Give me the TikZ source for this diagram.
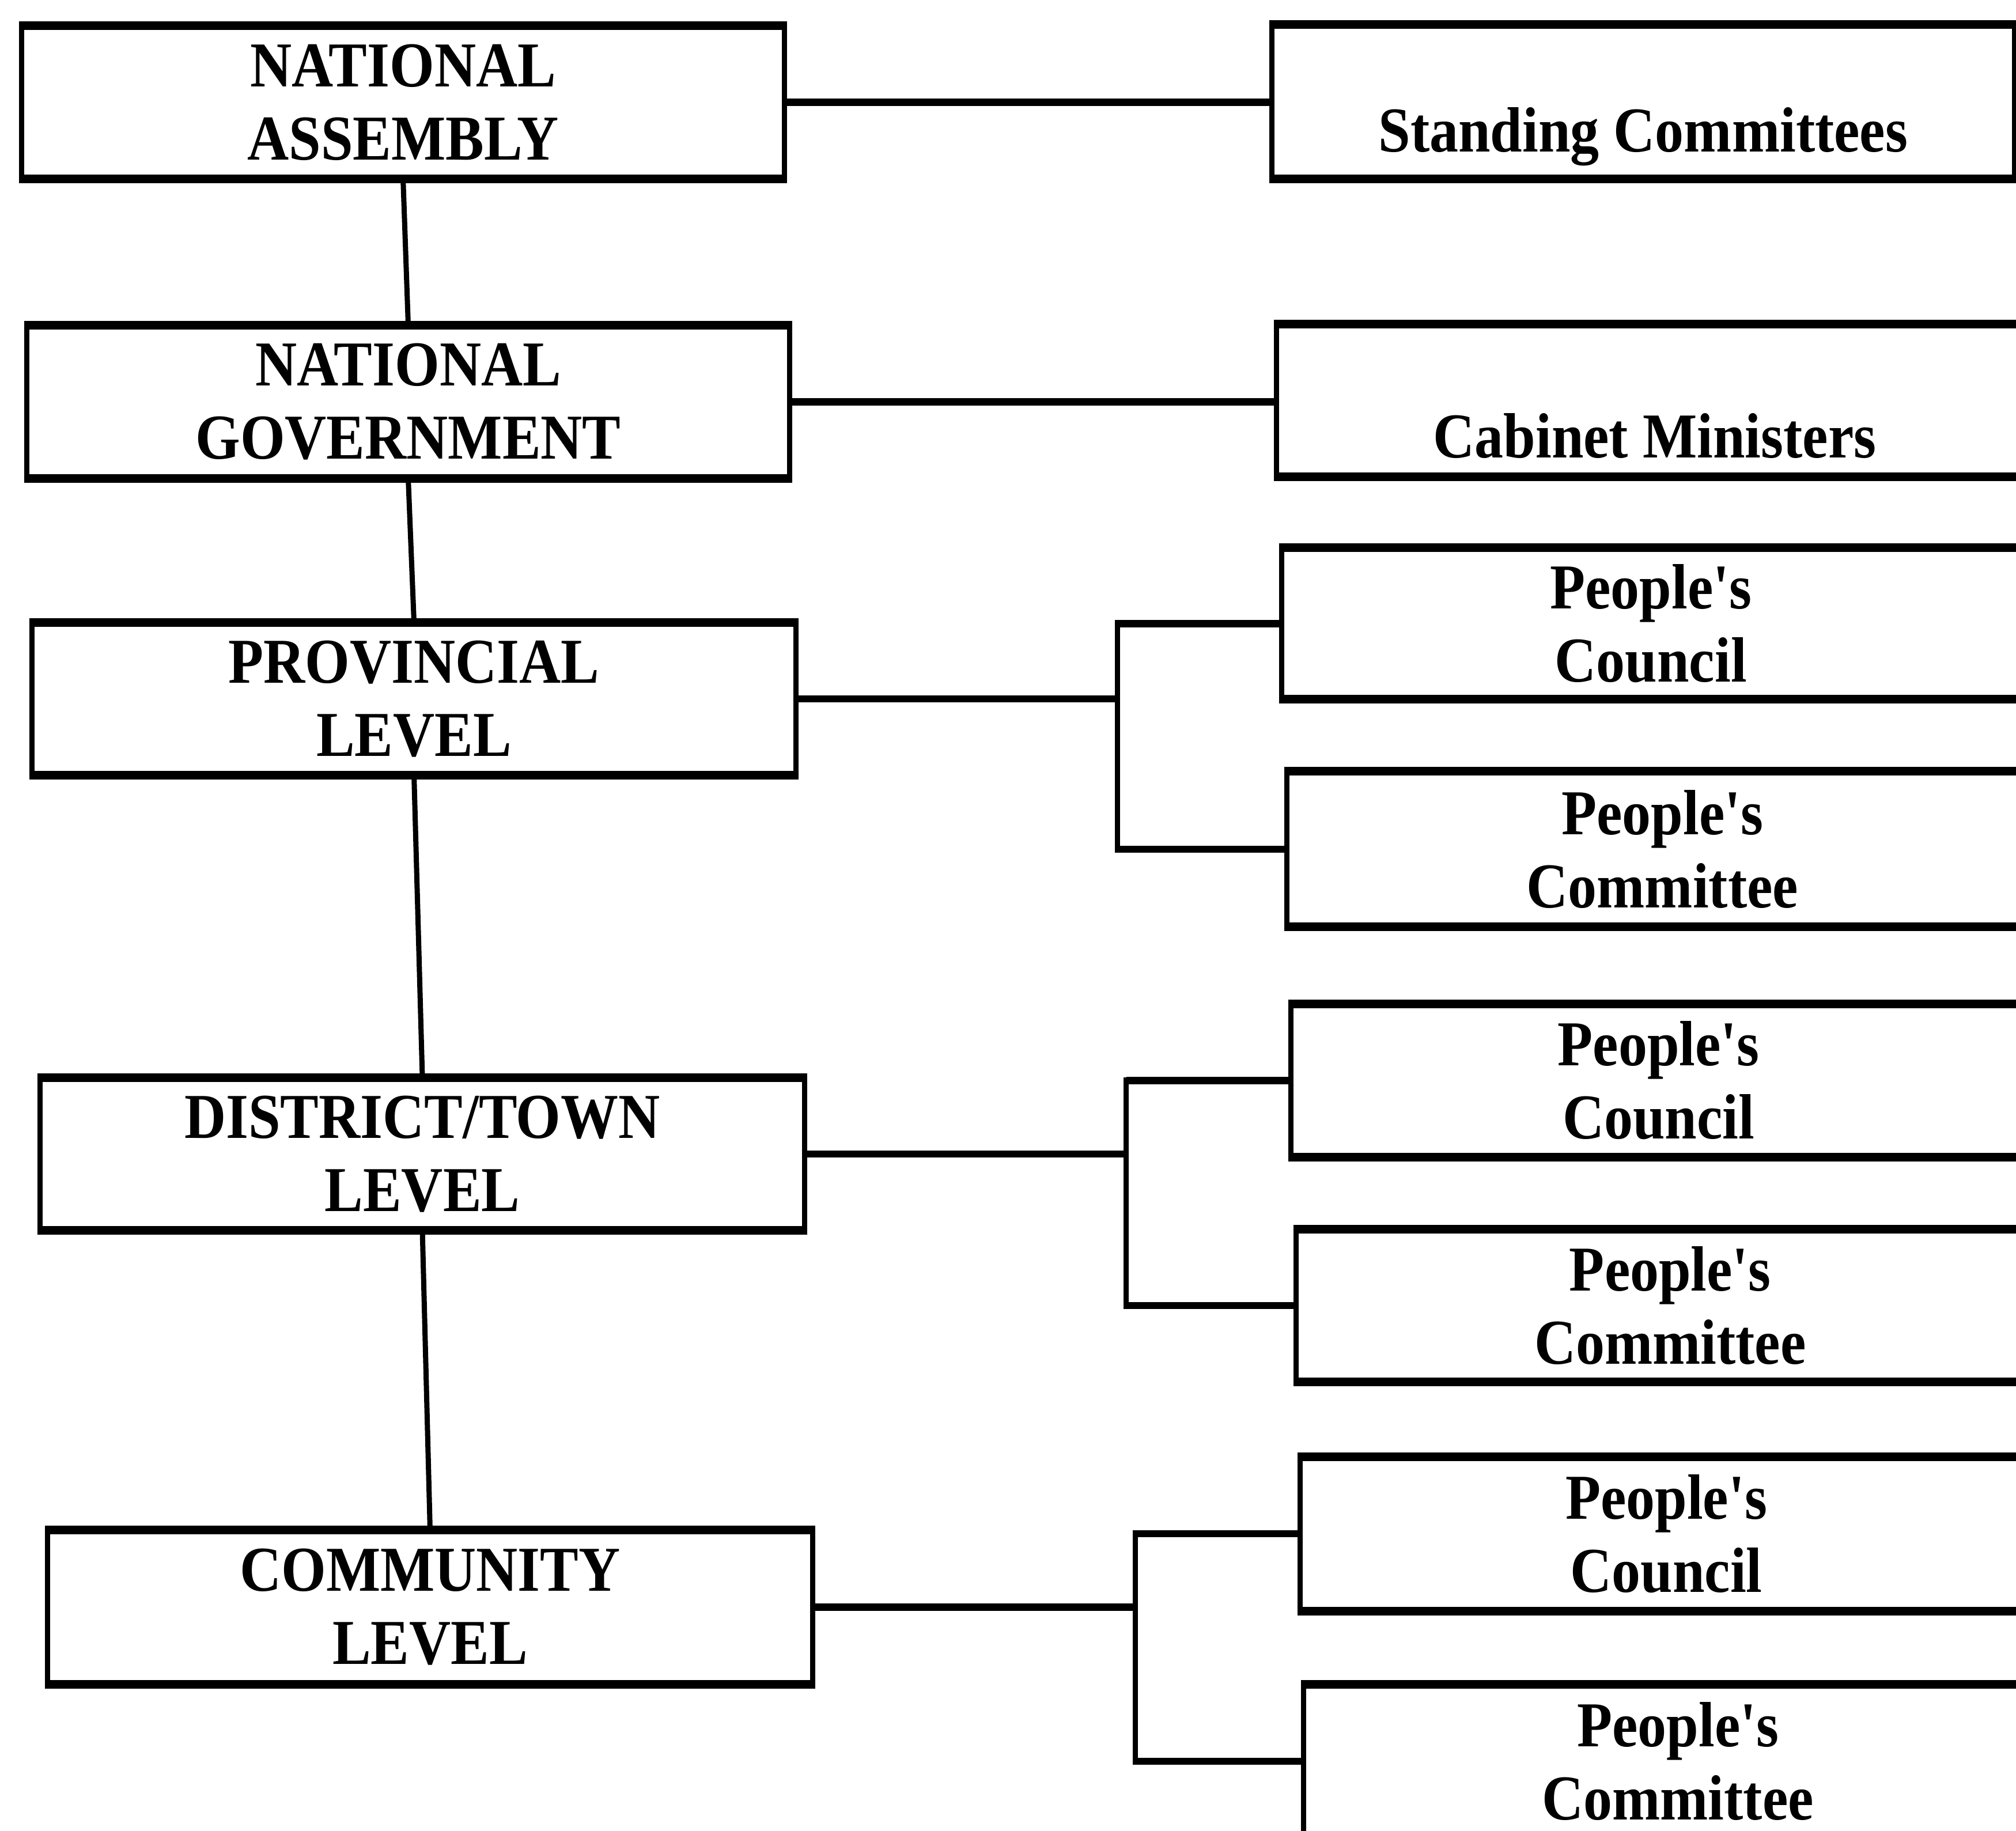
\documentclass[tikz,border=0pt]{standalone}
\usepackage{fontspec}
\setmainfont{Liberation Serif}[FakeStretch=0.9, Ligatures=TeXOff]
\begin{document}
\begin{tikzpicture}[
  x=0.22315pt, y=-0.22315pt,
  unitbox/.style={draw=none, inner sep=0pt, outer sep=0pt, align=center,
    font=\fontsize{11.1}{12.7}\selectfont\bfseries},
  edgeh/.style={line width=1.5pt, shorten <=-0.45pt, shorten >=-0.45pt},
  edgev/.style={line width=0.9pt},
  hconn/.style={line width=1.25pt},
  vconn/.style={line width=0.9pt, shorten <=-0.6pt, shorten >=-0.6pt},
  trunk/.style={line width=0.9pt}
]
\useasboundingbox (0,0) rectangle (1568,1424);
\clip (0,0) rectangle (1568,1424);

% box with corners (x1,y1) and (x2,y2)
\newcommand\orgbox[6]{%
  \node[unitbox, minimum width={(#4-#2)*0.22315pt}, minimum height={(#5-#3)*0.22315pt}]
    (#1) at ({(#2+#4)/2},{(#3+#5)/2}) {#6};
  \draw[edgeh] (#1.north west) -- (#1.north east);
  \draw[edgeh] (#1.south west) -- (#1.south east);
  \draw[edgev] (#1.north west) -- (#1.south west);
  \draw[edgev] (#1.north east) -- (#1.south east);
}

% levels of government
\orgbox{na}{17}{20}{610}{139}{NATIONAL\\ASSEMBLY}
\orgbox{ng}{21}{253}{614}{372}{NATIONAL\\GOVERNMENT}
\orgbox{pl}{25}{484}{619}{603}{PROVINCIAL\\LEVEL}
\orgbox{dt}{31}{838}{626}{957}{DISTRICT/TOWN\\LEVEL}
\orgbox{cl}{37}{1190}{632}{1310}{COMMUNITY\\LEVEL}

% bodies at each level
\orgbox{sc}{989}{19}{1567}{139}{\vphantom{P}\\Standing Committees}
\orgbox{cm}{993}{252}{1581}{371}{\vphantom{P}\\Cabinet Ministers}
\orgbox{pca}{997}{426}{1571}{544}{People's\\Council}
\orgbox{pma}{1001}{600}{1585}{721}{People's\\Committee}
\orgbox{pcb}{1004}{781}{1576}{900}{People's\\Council}
\orgbox{pmb}{1008}{956}{1590}{1075}{People's\\Committee}
\orgbox{pcc}{1011}{1133}{1581}{1253}{People's\\Council}
\orgbox{pmc}{1014}{1310}{1596}{1430}{People's\\Committee}

% hierarchy trunk
\draw[trunk] (na.south) -- (ng.north);
\draw[trunk] (ng.south) -- (pl.north);
\draw[trunk] (pl.south) -- (dt.north);
\draw[trunk] (dt.south) -- (cl.north);

% single links
\draw[hconn] (na.east) -- (na.east -| sc.west);
\draw[hconn] (ng.east) -- (ng.east -| cm.west);

% bracket links
\coordinate (ba) at (869,543);
\coordinate (bb) at (876,898);
\coordinate (bc) at (883,1250);
\foreach \lv/\br/\up/\dn in {pl/ba/pca/pma, dt/bb/pcb/pmb, cl/bc/pcc/pmc}{
  \draw[hconn] (\lv.east) -- (\lv.east -| \br);
  \draw[vconn] (\up.west -| \br) -- (\dn.west -| \br);
  \draw[hconn] (\up.west -| \br) -- (\up.west);
  \draw[hconn] (\dn.west -| \br) -- (\dn.west);
}
\end{tikzpicture}
\end{document}
